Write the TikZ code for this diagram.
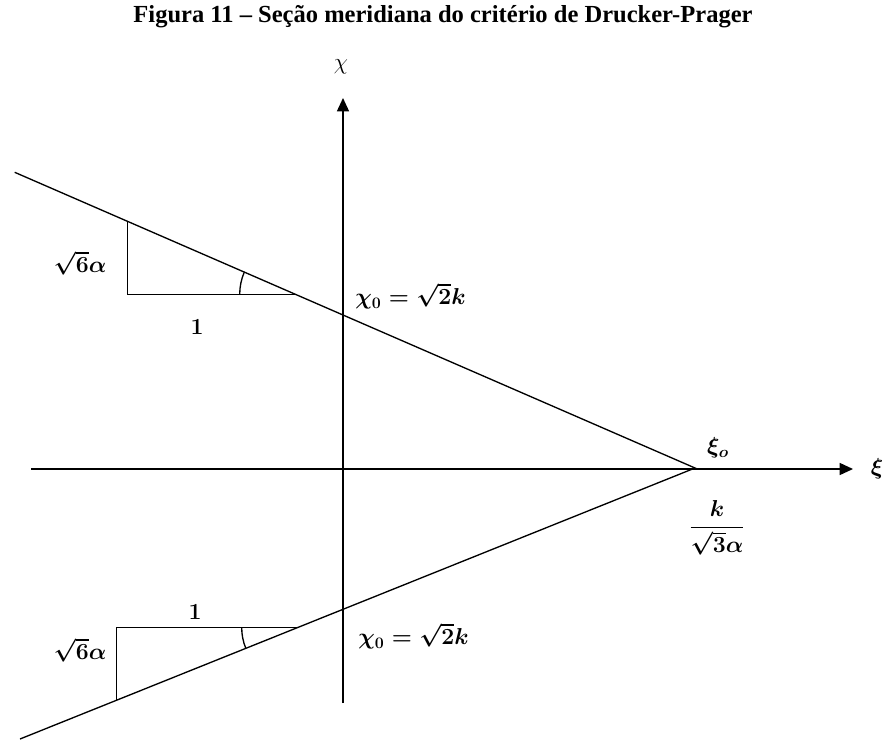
\documentclass[tikz,border=0pt]{standalone}
\usepackage[no-math]{fontspec}
\setmainfont{Liberation Serif}
\usepackage{amsmath,bm}
\usetikzlibrary{arrows.meta}

\begin{document}
\begin{tikzpicture}[x=0.75pt,y=-0.75pt]
  % Styles
  \tikzset{axis/.style={line width=1.1pt,-{Triangle[length=10pt,width=9pt]}},
           edge/.style={line width=1pt},
           lbl/.style={font=\fontsize{18}{21}\selectfont\boldmath, inner sep=0pt}}
  \useasboundingbox (0,0) rectangle (886,740);

  % --- Title ---
  \node[font=\fontsize{18.4}{22}\selectfont\bfseries] (title) at (443,17)
    {Figura 11 -- Seção meridiana do critério de Drucker-Prager};

  % --- Axes ---
  \coordinate (xs) at (31,469);
  \coordinate (xe) at (853,469);
  \coordinate (ys) at (343,703);
  \coordinate (ye) at (343,98);
  \draw[axis] (xs) -- (xe);
  \draw[axis] (ys) -- (ye);
  \node[lbl] (xi) at (877,469) {$\xi$};
  \node[font=\fontsize{18}{21}\selectfont, inner sep=0pt] (chi) at (341,67) {$\chi$};

  % --- Meridian lines ---
  \coordinate (apex) at (695,468);
  \coordinate (up) at (14.7,172.3);
  \coordinate (lo) at (20,739);
  \draw[edge] (up) -- (apex) -- (lo);

  % --- Upper slope triangle ---
  \coordinate (ua) at (127.7,221.4);
  \coordinate (ub) at (127.7,294.5);
  \coordinate (uc) at (296.7,294.5);
  \draw[edge] (ua) -- (ub) -- (uc);
  \draw[edge] (uc) ++(180:57) arc (180:203.5:57);

  % --- Lower slope triangle ---
  \coordinate (la) at (116.7,700.2);
  \coordinate (lb) at (116.7,627.5);
  \coordinate (lc) at (296.7,627.5);
  \draw[edge] (la) -- (lb) -- (lc);
  \draw[edge] (lc) ++(180:55) arc (180:158.1:55);

  % --- Labels ---
  \node[lbl] (urise) at (80,263) {$\sqrt{6}\alpha$};
  \node[lbl] (urun) at (197,327) {$1$};
  \node[lbl, anchor=west] (uchi) at (355,296) {$\chi_0 = \sqrt{2}k$};
  \node[lbl] (lrun) at (195,612) {$1$};
  \node[lbl] (lrise) at (80,650) {$\sqrt{6}\alpha$};
  \node[lbl, anchor=west] (lchi) at (358,636) {$\chi_0 = \sqrt{2}k$};
  \node[lbl] (xio) at (718,448) {$\xi_o$};
  \node[lbl] (frac) at (717,528) {$\dfrac{k}{\sqrt{3}\alpha}$};
\end{tikzpicture}
\end{document}
